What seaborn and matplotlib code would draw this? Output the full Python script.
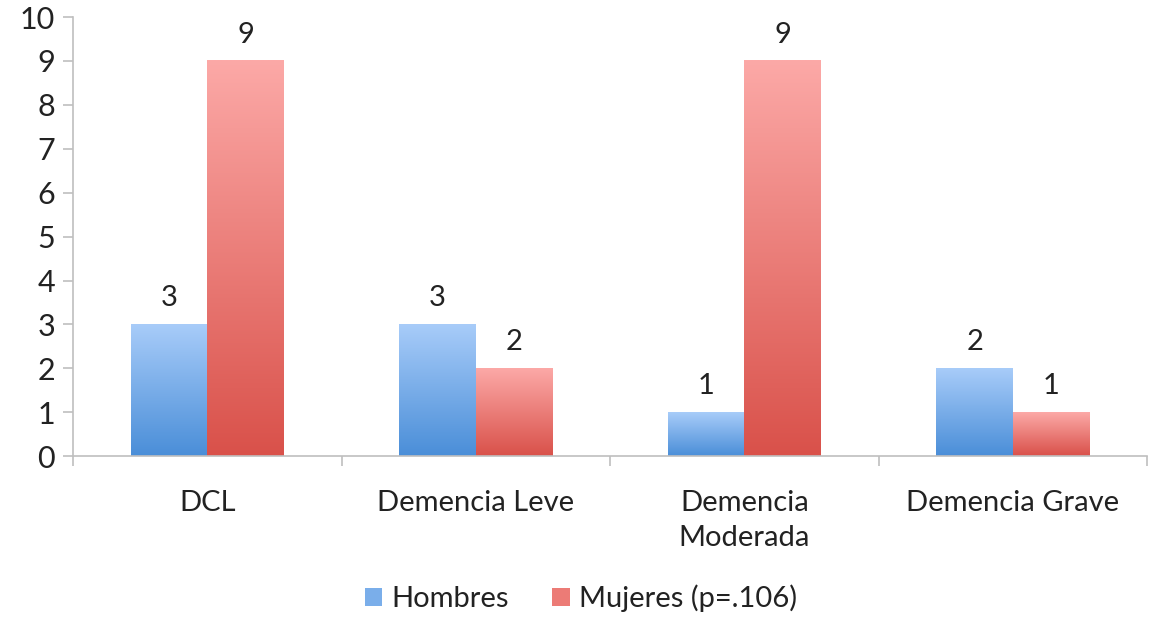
import numpy as np
import pandas as pd
import matplotlib
matplotlib.use("Agg")
import matplotlib.pyplot as plt
import seaborn as sns
from matplotlib.colors import LinearSegmentedColormap
from matplotlib.patches import Patch

categories = ["DCL", "Demencia Leve", "Demencia\nModerada", "Demencia Grave"]
hombres = [3, 3, 1, 2]
mujeres = [9, 2, 9, 1]
series_names = ["Hombres", "Mujeres (p=.106)"]

df = pd.DataFrame({
    "cat": categories * 2,
    "val": hombres + mujeres,
    "serie": [series_names[0]] * 4 + [series_names[1]] * 4,
})

sns.set_style("white")
plt.rcParams['font.family'] = ['Lato', 'DejaVu Sans']

fig = plt.figure(figsize=(11.5, 6.19), dpi=100)
ax = fig.add_axes([0.0635, 0.263, 0.934, 0.7095])

grad = {
    series_names[0]: ("#4a8ed8", "#a8ccf9"),
    series_names[1]: ("#d9514a", "#fca9a7"),
}
mid = {series_names[0]: "#7aaeea", series_names[1]: "#ec7b76"}

sns.barplot(data=df, x="cat", y="val", hue="serie", palette=mid,
            width=0.57, ax=ax, legend=False, saturation=1)

ax.set_xlim(-0.5, 3.5)
ax.set_ylim(0, 10)

# gradient fill of bars
ngroups = len(categories)
for i, p in enumerate(ax.patches):
    s = series_names[0] if i < ngroups else series_names[1]
    x0, y0 = p.get_x(), p.get_y()
    w, h = p.get_width(), p.get_height()
    if h <= 0:
        continue
    cmap = LinearSegmentedColormap.from_list("g", list(grad[s]))
    g = np.linspace(0, 1, 256).reshape(-1, 1)
    ax.imshow(g, cmap=cmap, origin="lower", aspect="auto",
              extent=(x0, x0 + w, y0, y0 + h), zorder=p.get_zorder())
    p.set_facecolor("none")
    p.set_edgecolor("none")
    ax.text(x0 + w / 2, y0 + h + 0.3, f"{int(h)}", ha="center", va="bottom",
            fontsize=21, color="#222222")

ax.set_xlim(-0.5, 3.5)
ax.set_ylim(0, 10)

ax.set_yticks(range(0, 11))
ax.tick_params(axis="y", which="major", length=7, width=1.2, color="#bfbfbf",
               labelsize=22, pad=6, left=True, labelcolor="#222222")

ax.set_xticks(range(ngroups))
ax.set_xticklabels(categories, linespacing=1.45)
ax.set_xticks(np.arange(-0.5, ngroups, 1.0), minor=True)
ax.tick_params(axis="x", which="major", length=0, pad=24, labelsize=21,
               labelcolor="#222222")
ax.tick_params(axis="x", which="minor", length=7, width=1.2, color="#bfbfbf",
               bottom=True)

ax.set_xlabel("")
ax.set_ylabel("")
for side in ["top", "right"]:
    ax.spines[side].set_visible(False)
for side in ["left", "bottom"]:
    ax.spines[side].set_color("#bfbfbf")
    ax.spines[side].set_linewidth(1.2)

handles = [Patch(facecolor=mid[s], edgecolor="none") for s in series_names]
fig.legend(handles, series_names, loc="center", bbox_to_anchor=(0.505, 0.033),
           ncol=2, frameon=False, fontsize=21, handlelength=0.6,
           handleheight=0.6, handletextpad=0.3, columnspacing=1.5,
           labelcolor="#222222")

fig.savefig("out.png", dpi=100)
